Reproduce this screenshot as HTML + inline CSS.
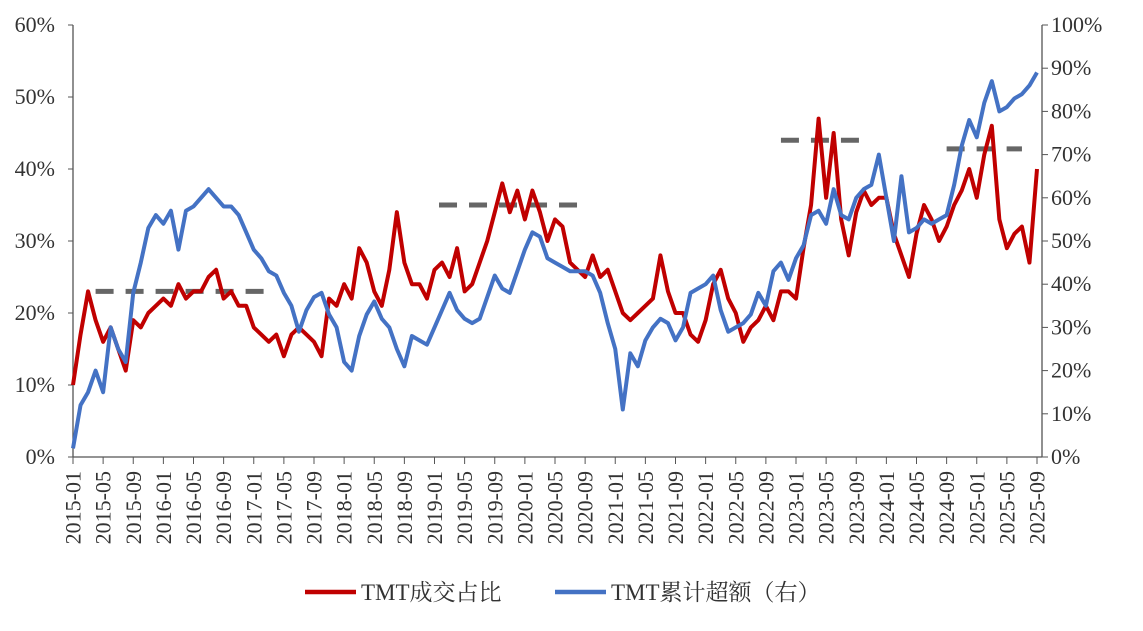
<!DOCTYPE html>
<html><head><meta charset="utf-8"><style>
body{margin:0;background:#fff;}
svg text{font-family:"Liberation Serif","Noto Serif CJK SC",serif;fill:#333;}
</style></head><body>
<svg id="chart" width="1143" height="626" xmlns="http://www.w3.org/2000/svg">
<g id="axes"></g>
<g id="series"></g>
<g id="legend">
  <line x1="305" y1="592" x2="356" y2="592" stroke="#c00000" stroke-width="4.5"/>
  <text x="361" y="600" font-size="23" font-family="'Liberation Serif','Noto Sans CJK SC',serif">TMT成交占比</text>
  <line x1="555" y1="592" x2="606" y2="592" stroke="#4472c4" stroke-width="4.5"/>
  <text x="611" y="600" font-size="23" font-family="'Liberation Serif','Noto Sans CJK SC',serif">TMT累计超额（右）</text>
</g>
</svg>
<script>
const xTickLabels = [];
for (let y = 2015; y <= 2025; y++) for (const m of ['01','05','09']) xTickLabels.push(y + '-' + m);
const leftTicks = [0,10,20,30,40,50,60];
const rightTicks = [0,10,20,30,40,50,60,70,80,90,100];
// monthly values, 2015-01 .. 2025-09
const redShare = [
 10,17,23,19,16,18,15,12,19,18,20,21,
 22,21,24,22,23,23,25,26,22,23,21,21,
 18,17,16,17,14,17,18,17,16,14,22,21,
 24,22,29,27,23,21,26,34,27,24,24,22,
 26,27,25,29,23,24,27,30,34,38,34,37,
 33,37,34,30,33,32,27,26,25,28,25,26,
 23,20,19,20,21,22,28,23,20,20,17,16,
 19,24,26,22,20,16,18,19,21,19,23,23,
 22,29,35,47,36,45,33,28,34,37,35,36,
 36,31,28,25,31,35,33,30,32,35,37,40,
 36,42,46,33,29,31,32,27,40];
const blueExcess = [
 2,12,15,20,15,30,25,22,38,45,53,56,
 54,57,48,57,58,60,62,60,58,58,56,52,
 48,46,43,42,38,35,29,34,37,38,33,30,
 22,20,28,33,36,32,30,25,21,28,27,26,
 30,34,38,34,32,31,32,37,42,39,38,43,
 48,52,51,46,45,44,43,43,43,42,38,31,
 25,11,24,21,27,30,32,31,27,30,38,39,
 40,42,34,29,30,31,33,38,35,43,45,41,
 46,49,56,57,54,62,56,55,60,62,63,70,
 60,50,65,52,53,55,54,55,56,63,72,78,
 74,82,87,80,81,83,84,86,89];
const avgStart = [3,48.6,94,116];
const avgEnd = [26,67.6,105,126];
const avgValue = [23,35,44,42.8];

const NS='http://www.w3.org/2000/svg';
const X0=73, X1=1037, NM=128, YB=457, YT=25;
const xs = m => X0 + (X1-X0)*m/NM;
const yL = v => YB - (YB-YT)*v/60;
const yR = v => YB - (YB-YT)*v/100;
function mk(tag, attrs, parent){const e=document.createElementNS(NS,tag);for(const k in attrs)e.setAttribute(k,attrs[k]);parent.appendChild(e);return e;}
const ax=document.getElementById('axes'), se=document.getElementById('series');

let e=mk('line',{x1:X0,y1:YT,x2:X0,y2:YB,stroke:'#555','stroke-width':1.3},ax);
 
e=mk('line',{x1:1042,y1:YT,x2:1042,y2:YB,stroke:'#555','stroke-width':1.3},ax);
 
e=mk('line',{x1:X0,y1:YB,x2:1042,y2:YB,stroke:'#555','stroke-width':1.3},ax);
 
leftTicks.forEach(v=>{
  mk('line',{x1:X0-5,y1:yL(v),x2:X0,y2:yL(v),stroke:'#555'},ax);
  const t=mk('text',{x:55,y:yL(v)+7,'text-anchor':'end','font-size':22},ax); t.textContent=v+'%';
   
});
rightTicks.forEach(v=>{
  mk('line',{x1:1042,y1:yR(v),x2:1048,y2:yR(v),stroke:'#555'},ax);
  const t=mk('text',{x:1051,y:yR(v)+7,'font-size':22},ax); t.textContent=v+'%';
   
});
xTickLabels.forEach((s,i)=>{
  const x=xs(i*4);
  mk('line',{x1:x,y1:YB,x2:x,y2:YB+7,stroke:'#555'},ax);
  const t=mk('text',{x:0,y:0,'text-anchor':'end','font-size':22,transform:`translate(${x+7.5},471) rotate(-90)`},ax); t.textContent=s;
   
});
avgValue.forEach((v,i)=>{
  const l=mk('line',{x1:xs(avgStart[i]),y1:yL(v),x2:xs(avgEnd[i]),y2:yL(v),stroke:'#666','stroke-width':5,'stroke-dasharray':'18 12'},se);
   
});
const redP=mk('polyline',{points:redShare.map((v,i)=>xs(i)+','+yL(v)).join(' '),fill:'none',stroke:'#c00000','stroke-width':4,'stroke-linejoin':'round'},se);
 
const blueP=mk('polyline',{points:blueExcess.map((v,i)=>xs(i)+','+yR(v)).join(' '),fill:'none',stroke:'#4472c4','stroke-width':4,'stroke-linejoin':'round'},se);
 
</script>
</body></html>
